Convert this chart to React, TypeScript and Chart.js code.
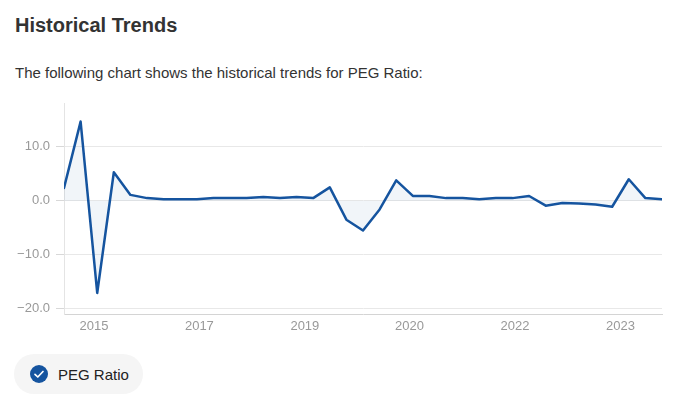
import React, { useEffect, useRef } from "react";
import { Chart, registerables } from "chart.js";

Chart.register(...registerables);

const pegRatio: number[] = [
  2.4, 14.7, -17.1, 5.3, 1.1, 0.5, 0.3, 0.3, 0.3, 0.5, 0.5, 0.5, 0.7, 0.5, 0.7, 0.5,
  2.5, -3.5, -5.5, -1.6, 3.8, 0.9, 0.9, 0.5, 0.5, 0.3, 0.5, 0.5, 0.9, -0.9, -0.4, -0.5,
  -0.7, -1.1, 4.0, 0.5, 0.3,
];
const yearLabels: string[] = ["2015", "2017", "2019", "2020", "2022", "2023"];
const yearTickIndex: number[] = [1.8, 8.15, 14.5, 20.8, 27.15, 33.5];
const yTicks: number[] = [-20, -10, 0, 10];

const FONT = "'Liberation Sans', Arial, Helvetica, sans-serif";

function PegChart() {
  const ref = useRef<HTMLCanvasElement | null>(null);
  useEffect(() => {
    if (!ref.current) return;
    const chart = new Chart(ref.current, {
      type: "line",
      data: {
        datasets: [
          {
            label: "PEG Ratio",
            data: pegRatio.map((v, i) => ({ x: i, y: v })),
            borderColor: "#15549f",
            backgroundColor: "rgba(21,84,159,0.06)",
            borderWidth: 2.5,
            borderJoinStyle: "round",
            borderCapStyle: "round",
            pointRadius: 0,
            tension: 0,
            fill: "origin",
          },
        ],
      },
      options: {
        animation: false,
        responsive: false,
        maintainAspectRatio: false,
        layout: { padding: { top: 12, right: 14, bottom: 0, left: 0 } },
        plugins: { legend: { display: false }, tooltip: { enabled: false } },
        scales: {
          x: {
            type: "linear",
            min: 0,
            max: pegRatio.length - 1,
            grid: { display: false, drawTicks: false },
            border: { display: true, color: "#d4d4d4", width: 1 },
            afterBuildTicks: (scale: any) => {
              scale.ticks = yearTickIndex.map((v) => ({ value: v }));
            },
            afterFit: (scale: any) => {
              scale.height = 26;
            },
            ticks: {
              autoSkip: false,
              maxRotation: 0,
              padding: 5,
              color: "#999999",
              font: { family: FONT, size: 13 },
              callback: (_v: any, i: number) => yearLabels[i],
            },
          },
          y: {
            type: "linear",
            min: -21,
            max: 18,
            afterBuildTicks: (scale: any) => {
              scale.ticks = yTicks.map((v) => ({ value: v }));
            },
            afterFit: (scale: any) => {
              scale.width = 64;
            },
            grid: { color: "#e8e8e8", drawTicks: true, tickLength: 8, tickColor: "#d8d8d8" },
            border: { display: true, color: "#e4e4e4" },
            ticks: {
              padding: 6,
              color: "#999999",
              font: { family: FONT, size: 13 },
              callback: (v: any) => (Number(v) < 0 ? "\u2212" + Math.abs(Number(v)).toFixed(1) : Number(v).toFixed(1)),
            },
          },
        },
      },
    });
    return () => chart.destroy();
  }, []);
  return <canvas ref={ref} width={676} height={250} style={{ position: "absolute", left: 0, top: 90, width: 676, height: 250 }} />;
}

export default function App() {
  return (
    <div style={{ position: "fixed", left: 0, top: 0, width: 676, height: 402, background: "#fff", fontFamily: FONT, overflow: "hidden" }}>
      <div style={{ position: "absolute", left: 15, top: 13, fontSize: 20, fontWeight: "bold", color: "#333", lineHeight: "24px" }}>
        Historical Trends
      </div>
      <div style={{ position: "absolute", left: 15, top: 64, fontSize: 15, color: "#333", lineHeight: "18px" }}>
        The following chart shows the historical trends for PEG Ratio:
      </div>
      <PegChart />
      <div
        style={{
          position: "absolute",
          left: 14,
          top: 354,
          height: 40,
          width: 129,
          borderRadius: 20,
          background: "#f5f5f5",
          display: "flex",
          alignItems: "center",
        }}
      >
        <svg width="20" height="20" viewBox="0 0 20 20" style={{ marginLeft: 15 }}>
          <circle cx="10" cy="10" r="9" fill="#15549f" />
          <path d="M6 10.3 L8.8 13 L14 7.5" stroke="#fff" strokeWidth="1.7" fill="none" strokeLinecap="round" strokeLinejoin="round" />
        </svg>
        <span style={{ marginLeft: 9, fontSize: 15, color: "#222" }}>PEG Ratio</span>
      </div>
    </div>
  );
}
